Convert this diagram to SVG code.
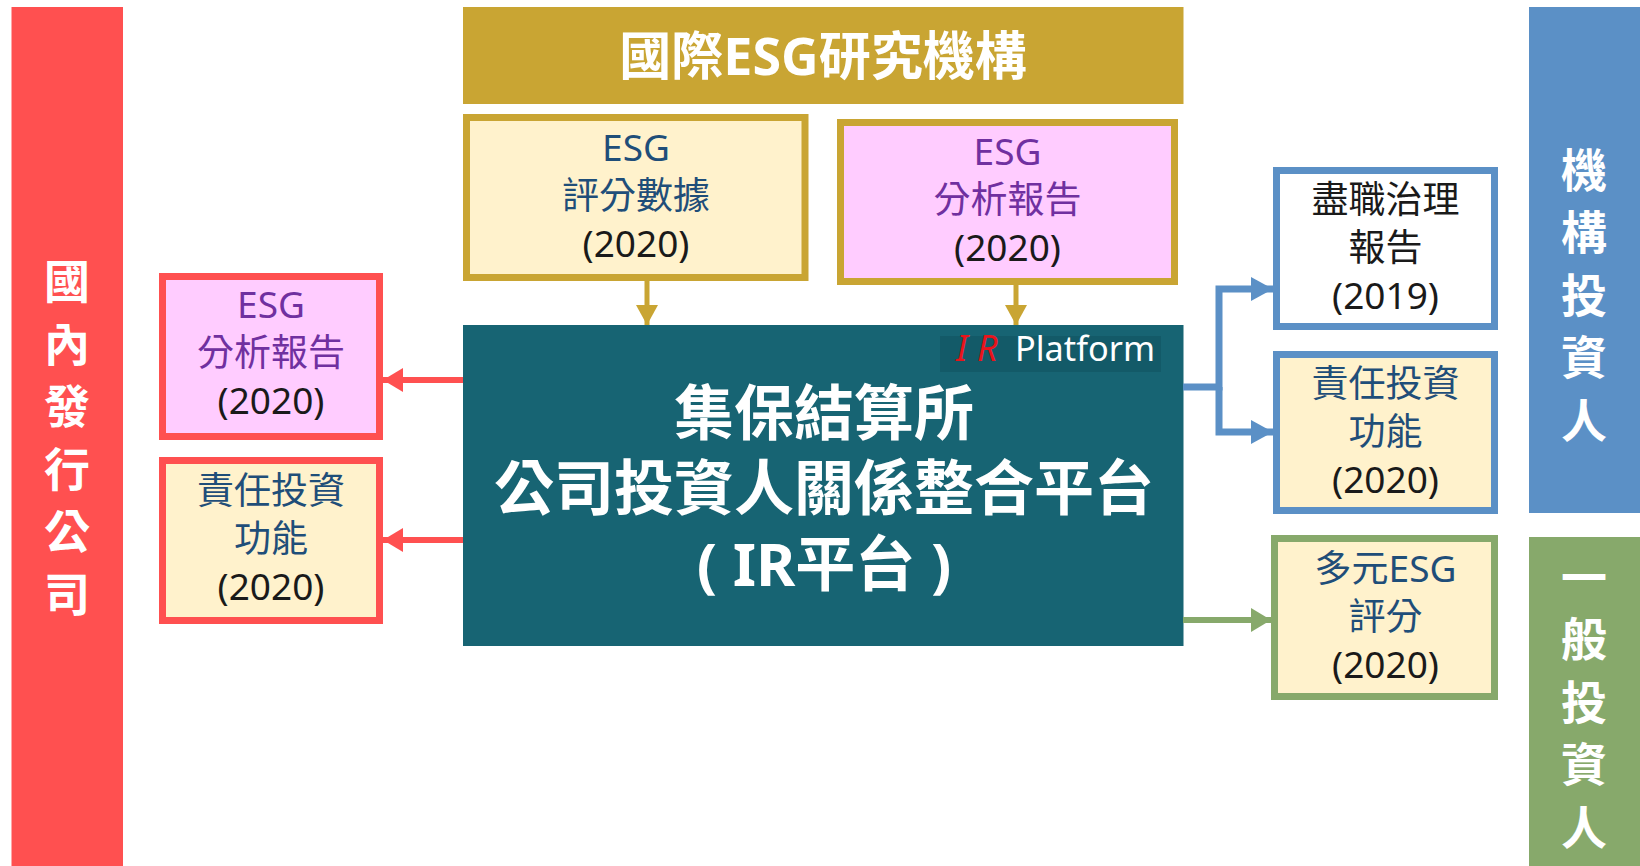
<svg xmlns="http://www.w3.org/2000/svg" width="1640" height="866" viewBox="0 0 1640 866">
<defs>
<style>
.t{font-family:'Noto Sans','Noto Sans CJK TC',sans-serif;text-anchor:middle}
.bar{font-size:46px;font-weight:bold;fill:#fff}
.bx{font-size:37px}
.blue{fill:#1F4E79}
.pur{fill:#7030A0}
.blk{fill:#1a1a1a}
.box{stroke-width:7}
</style>
<marker id="aR" viewBox="0 0 20 24" refX="20" refY="12" markerWidth="20" markerHeight="24" markerUnits="userSpaceOnUse" orient="auto"><path d="M0,0 L20,12 L0,24 Z" fill="#FF5050"/></marker>
<marker id="aG" viewBox="0 0 20 22" refX="20" refY="11" markerWidth="20" markerHeight="22" markerUnits="userSpaceOnUse" orient="auto"><path d="M0,0 L20,11 L0,22 Z" fill="#C9A533"/></marker>
<marker id="aB" viewBox="0 0 22 24" refX="22" refY="12" markerWidth="22" markerHeight="24" markerUnits="userSpaceOnUse" orient="auto"><path d="M0,0 L22,12 L0,24 Z" fill="#5B90C6"/></marker>
<marker id="aN" viewBox="0 0 20 24" refX="20" refY="12" markerWidth="20" markerHeight="24" markerUnits="userSpaceOnUse" orient="auto"><path d="M0,0 L20,12 L0,24 Z" fill="#87A96B"/></marker>
</defs>
<rect width="1640" height="866" fill="#fff"/>

<g id="bar-domestic">
<rect x="11.5" y="7" width="111.5" height="859" fill="#FF5050"/>
<text class="t bar" x="67"><tspan x="67" y="298">國</tspan><tspan x="67" y="360.5">內</tspan><tspan x="67" y="423">發</tspan><tspan x="67" y="485.5">行</tspan><tspan x="67" y="548">公</tspan><tspan x="67" y="610.5">司</tspan></text>
</g>

<g id="bar-institutional">
<rect x="1529" y="7" width="111" height="506" fill="#5B90C6"/>
<text class="t bar"><tspan x="1584" y="186.5">機</tspan><tspan x="1584" y="249">構</tspan><tspan x="1584" y="311.5">投</tspan><tspan x="1584" y="374">資</tspan><tspan x="1584" y="436.5">人</tspan></text>
</g>

<g id="bar-general">
<rect x="1529" y="537" width="111" height="329" fill="#87A96B"/>
<text class="t bar"><tspan x="1584" y="593.5">一</tspan><tspan x="1584" y="656">般</tspan><tspan x="1584" y="718.5">投</tspan><tspan x="1584" y="781">資</tspan><tspan x="1584" y="843.5">人</tspan></text>
</g>

<g id="header-intl">
<rect x="463" y="7" width="720.5" height="97" fill="#C9A533"/>
<text class="t" x="823" y="75" font-size="52" font-weight="bold" fill="#fff">國際ESG研究機構</text>
</g>

<g id="box-esg-score">
<rect class="box" x="466.5" y="117.5" width="338.5" height="160" fill="#FFF2CC" stroke="#C9A533"/>
<text class="t bx blue" x="636" y="161">ESG</text>
<text class="t bx blue" x="636" y="209">評分數據</text>
<text class="t bx blk" x="636" y="257">(2020)</text>
</g>

<g id="box-esg-report-top">
<rect class="box" x="840.5" y="122.5" width="334" height="159" fill="#FFCCFF" stroke="#C9A533"/>
<text class="t bx pur" x="1007.5" y="165">ESG</text>
<text class="t bx pur" x="1007.5" y="213">分析報告</text>
<text class="t bx blk" x="1007.5" y="261">(2020)</text>
</g>

<g id="platform">
<rect x="463" y="325" width="720.5" height="321" fill="#176473"/>
<rect x="940" y="336" width="221" height="36" fill="#135A68"/>
<text font-family="'Noto Sans',sans-serif" font-size="36" font-style="italic" fill="#E8141B" y="361"><tspan x="956">I</tspan><tspan x="977">R</tspan></text>
<text font-family="'Noto Sans',sans-serif" font-size="35" fill="#fff" x="1015" y="361" textLength="140" lengthAdjust="spacingAndGlyphs">Platform</text>
<text class="t" font-size="60" font-weight="bold" fill="#fff"><tspan x="824" y="435">集保結算所</tspan><tspan x="824" y="510">公司投資人關係整合平台</tspan><tspan x="824" y="586">( IR平台 )</tspan></text>
</g>

<g id="box-esg-report-left">
<rect class="box" x="162.5" y="276.5" width="217" height="160" fill="#FFCCFF" stroke="#FF5050"/>
<text class="t bx pur" x="271" y="318">ESG</text>
<text class="t bx pur" x="271" y="366">分析報告</text>
<text class="t bx blk" x="271" y="414">(2020)</text>
</g>

<g id="box-ri-left">
<rect class="box" x="162.5" y="460.5" width="217" height="160" fill="#FFF2CC" stroke="#FF5050"/>
<text class="t bx blue" x="271" y="504">責任投資</text>
<text class="t bx blue" x="271" y="552">功能</text>
<text class="t bx blk" x="271" y="600">(2020)</text>
</g>

<g id="box-stewardship">
<rect class="box" x="1276.5" y="170.5" width="218" height="156" fill="#fff" stroke="#5B90C6"/>
<text class="t bx blk" x="1385.5" y="213">盡職治理</text>
<text class="t bx blk" x="1385.5" y="261">報告</text>
<text class="t bx blk" x="1385.5" y="309">(2019)</text>
</g>

<g id="box-ri-right">
<rect class="box" x="1276.5" y="354.5" width="218" height="156" fill="#FFF2CC" stroke="#5B90C6"/>
<text class="t bx blue" x="1385.5" y="397">責任投資</text>
<text class="t bx blue" x="1385.5" y="445">功能</text>
<text class="t bx blk" x="1385.5" y="493">(2020)</text>
</g>

<g id="box-multi-esg">
<rect class="box" x="1274.5" y="538.5" width="220" height="158" fill="#FFF2CC" stroke="#87A96B"/>
<text class="t bx blue" x="1385.5" y="582">多元ESG</text>
<text class="t bx blue" x="1385.5" y="630">評分</text>
<text class="t bx blk" x="1385.5" y="678">(2020)</text>
</g>

<g id="connectors" fill="none">
<line x1="647" y1="281" x2="647" y2="325" stroke="#C9A533" stroke-width="5" marker-end="url(#aG)"/>
<line x1="1016" y1="285" x2="1016" y2="325" stroke="#C9A533" stroke-width="5" marker-end="url(#aG)"/>
<line x1="463" y1="380" x2="383" y2="380" stroke="#FF5050" stroke-width="6" marker-end="url(#aR)"/>
<line x1="463" y1="540" x2="383" y2="540" stroke="#FF5050" stroke-width="6" marker-end="url(#aR)"/>
<path d="M1183,387 H1219 V289 H1273" stroke="#5B90C6" stroke-width="7" marker-end="url(#aB)"/>
<path d="M1219,387 V432 H1273" stroke="#5B90C6" stroke-width="7" marker-end="url(#aB)"/>
<line x1="1183" y1="620" x2="1271" y2="620" stroke="#87A96B" stroke-width="6" marker-end="url(#aN)"/>
</g>
</svg>
